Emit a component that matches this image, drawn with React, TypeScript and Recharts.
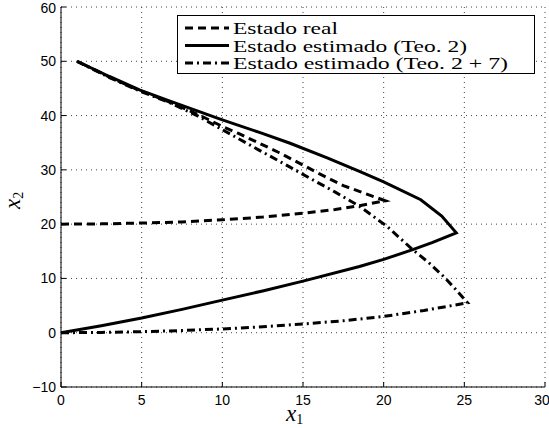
import { LineChart, Line, XAxis, YAxis, CartesianGrid, Legend } from 'recharts';

// x1 / x2 trajectories
const realState = [
  { x: 0, y: 20 }, { x: 2.5, y: 20.05 }, { x: 5, y: 20.2 }, { x: 7.5, y: 20.4 },
  { x: 10, y: 20.8 }, { x: 12.5, y: 21.3 }, { x: 15, y: 22.0 }, { x: 17, y: 22.7 },
  { x: 18.5, y: 23.4 }, { x: 20.1, y: 24.3 },
  { x: 18.8, y: 25.7 }, { x: 17.5, y: 27.1 }, { x: 16, y: 29.3 }, { x: 14.8, y: 31.2 },
  { x: 13.5, y: 33.2 }, { x: 12.3, y: 34.9 }, { x: 11, y: 36.7 }, { x: 10, y: 38.0 },
  { x: 8.5, y: 40.2 }, { x: 6.8, y: 42.4 }, { x: 4.9, y: 44.6 }, { x: 3, y: 47.1 },
  { x: 1, y: 50 },
];

const estTeo2 = [
  { x: 0, y: 0 }, { x: 2.5, y: 1.3 }, { x: 5, y: 2.7 }, { x: 7.5, y: 4.3 },
  { x: 10, y: 6.0 }, { x: 12.5, y: 7.7 }, { x: 15, y: 9.5 }, { x: 18.5, y: 12.2 },
  { x: 20, y: 13.5 }, { x: 21.8, y: 15.3 }, { x: 23, y: 16.6 }, { x: 24.5, y: 18.4 },
  { x: 23.6, y: 21.5 }, { x: 22.3, y: 24.5 }, { x: 20, y: 27.8 }, { x: 18.5, y: 29.7 },
  { x: 16.5, y: 32.2 }, { x: 14.2, y: 34.9 }, { x: 12.3, y: 36.9 }, { x: 10, y: 39.2 },
  { x: 8.4, y: 40.9 }, { x: 6.8, y: 42.6 }, { x: 4.9, y: 44.7 }, { x: 3, y: 47.2 },
  { x: 1, y: 50 },
];

const estTeo27 = [
  { x: 0, y: 0 }, { x: 2.5, y: 0.05 }, { x: 5, y: 0.2 }, { x: 7.5, y: 0.4 },
  { x: 10, y: 0.7 }, { x: 12.5, y: 1.1 }, { x: 15, y: 1.6 }, { x: 17.5, y: 2.2 },
  { x: 20, y: 3.0 }, { x: 22.5, y: 4.1 }, { x: 25.2, y: 5.5 },
  { x: 24.4, y: 8.2 }, { x: 23.7, y: 10.4 }, { x: 22.8, y: 12.9 }, { x: 21.8, y: 15.3 },
  { x: 20.2, y: 19.6 }, { x: 18.5, y: 23.3 }, { x: 17, y: 25.9 }, { x: 15.4, y: 28.5 },
  { x: 14.2, y: 30.5 }, { x: 12.3, y: 33.6 }, { x: 10, y: 37.4 }, { x: 8.5, y: 39.9 },
  { x: 6.8, y: 42.3 }, { x: 4.9, y: 44.5 }, { x: 3, y: 47 }, { x: 1, y: 50 },
];

const xTicks = [0, 5, 10, 15, 20, 25, 30];
const yTicks = [-10, 0, 10, 20, 30, 40, 50, 60];

const legendItems = [
  { label: 'Estado real', dash: '8 5', width: 105 },
  { label: 'Estado estimado (Teo. 2)', dash: undefined, width: 234 },
  { label: 'Estado estimado (Teo. 2 + 7)', dash: '8 4 2 4', width: 275 },
];

const tickFont = { fill: '#000', fontSize: 14, fontFamily: 'Liberation Sans, Arial, sans-serif' };
const fmt = (v: number) => String(v).replace('-', '\u2212');
const serif = 'Liberation Serif, Times New Roman, serif';

const LegendBox = () => (
  <div style={{ width: 358, height: 59, boxSizing: 'border-box', border: '1px solid #000', background: '#fff' }}>
    <svg width={356} height={57} style={{ display: 'block' }}>
      {legendItems.map((it, i) => (
        <g key={it.label}>
          <line x1={7} x2={51} y1={12 + i * 17.5} y2={12 + i * 17.5} stroke="#000" strokeWidth={3} strokeDasharray={it.dash} />
          <text x={55} y={18 + i * 17.5} fontSize={16} style={{ fontFamily: serif }} textLength={it.width} lengthAdjust="spacingAndGlyphs">
            {it.label}
          </text>
        </g>
      ))}
    </svg>
  </div>
);

export default function App() {
  return (
    <div style={{ position: 'absolute', left: 0, top: 0, background: '#fff' }}>
      <LineChart width={549} height={428} margin={{ top: 7, right: 4, left: 0, bottom: 0 }}>
        <CartesianGrid stroke="#444" strokeDasharray="1 4" />
        <XAxis
          type="number" dataKey="x" domain={[0, 30]} ticks={xTicks} height={41}
          tickSize={-5} tickMargin={13} tick={tickFont}
          axisLine={{ stroke: '#000' }} tickLine={{ stroke: '#000' }}
          label={{
            content: () => (
              <text x={286} y={421} fontSize={23} fontStyle="italic" style={{ fontFamily: serif }}>
                x<tspan fontSize={14} fontStyle="normal" dy={3}>1</tspan>
              </text>
            ),
          }}
        />
        <XAxis
          xAxisId="top" orientation="top" type="number" dataKey="x" domain={[0, 30]} ticks={xTicks}
          height={0} tickSize={-5} tickFormatter={() => ''}
          axisLine={{ stroke: '#000' }} tickLine={{ stroke: '#000' }}
        />
        <YAxis
          type="number" domain={[-10, 60]} ticks={yTicks} width={61}
          tickSize={-5} tickMargin={10} tick={tickFont} tickFormatter={fmt}
          axisLine={{ stroke: '#000' }} tickLine={{ stroke: '#000' }}
          label={{
            content: () => (
              <text x={20} y={209} transform="rotate(-90, 20, 209)" fontSize={23} fontStyle="italic" style={{ fontFamily: serif }}>
                x<tspan fontSize={14} fontStyle="normal" dy={3}>2</tspan>
              </text>
            ),
          }}
        />
        <YAxis
          yAxisId="right" orientation="right" type="number" domain={[-10, 60]} ticks={yTicks}
          width={0} tickSize={-5} tickFormatter={() => ''}
          axisLine={{ stroke: '#000' }} tickLine={{ stroke: '#000' }}
        />
        <Legend
          content={() => <LegendBox />}
          layout="horizontal" verticalAlign="middle" align="center"
          wrapperStyle={{ left: 177, top: 15, width: 358, height: 59 }}
        />
        <Line data={realState} dataKey="y" type="linear" stroke="#000" strokeWidth={3} strokeDasharray="8 5" dot={false} isAnimationActive={false} />
        <Line data={estTeo2} dataKey="y" type="linear" stroke="#000" strokeWidth={3} dot={false} isAnimationActive={false} />
        <Line data={estTeo27} dataKey="y" type="linear" stroke="#000" strokeWidth={3} strokeDasharray="8 4 2 4" dot={false} isAnimationActive={false} />
      </LineChart>
    </div>
  );
}
